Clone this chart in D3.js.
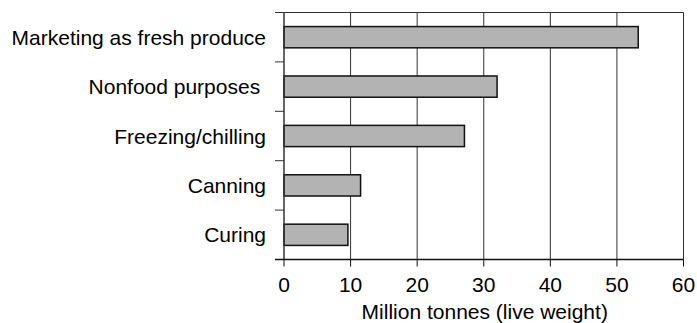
<!DOCTYPE html>
<html><head><meta charset="utf-8">
<script src="https://cdn.jsdelivr.net/npm/d3@7"></script>
<style>body{margin:0;background:#fff}text{font-family:"Liberation Sans",Arial,sans-serif;fill:#000}</style>
</head><body>
<svg id="c" width="697" height="323"></svg>
<script>
const categories = ["Marketing as fresh produce", "Nonfood purposes ", "Freezing/chilling", "Canning", "Curing"];
const values = [53.2, 32.0, 27.1, 11.5, 9.6];
const xTicks = [0, 10, 20, 30, 40, 50, 60];
const xTitle = "Million tonnes (live weight)";

const svg = d3.select("#c");
const m = {l: 284, r: 683.5, t: 12.5, b: 259.5};
const x = d3.scaleLinear().domain([0, 60]).range([m.l, m.r]);
const y = d3.scaleBand().domain(categories).range([m.t, m.b]).paddingInner(0.57).paddingOuter(0.285);
const band = d3.scaleBand().domain(categories).range([m.t, m.b]);

// gridlines
svg.append("g").selectAll("line").data(xTicks.slice(1)).join("line")
  .attr("x1", d => x(d)).attr("x2", d => x(d)).attr("y1", m.t).attr("y2", m.b)
  .attr("stroke", "#333").attr("stroke-width", 1);
// top frame
svg.append("line").attr("x1", 275).attr("x2", m.r).attr("y1", m.t).attr("y2", m.t)
  .attr("stroke", "#333").attr("stroke-width", 1);

// bars
svg.append("g").selectAll("rect").data(categories).join("rect")
  .attr("x", x(0)).attr("y", d => y(d))
  .attr("width", (d, i) => x(values[i]) - x(0)).attr("height", y.bandwidth())
  .attr("fill", "#b3b3b3").attr("stroke", "#111").attr("stroke-width", 1.5);

// left axis with ticks at band boundaries
svg.append("line").attr("x1", m.l).attr("x2", m.l).attr("y1", m.t).attr("y2", m.b)
  .attr("stroke", "#333").attr("stroke-width", 1.5);
const bounds = categories.map(c => band(c)).concat([m.b]);
svg.append("g").selectAll("line").data(bounds).join("line")
  .attr("x1", 275).attr("x2", m.l).attr("y1", d => d).attr("y2", d => d)
  .attr("stroke", "#333").attr("stroke-width", 1);

// category labels
svg.append("g").selectAll("text").data(categories).join("text")
  .attr("x", 266).attr("y", d => band(d) + band.bandwidth() / 2)
  .attr("dy", "0.36em").attr("text-anchor", "end")
  .style("white-space", "pre").style("font-size", "21px")
  .text(d => d);

// bottom axis
svg.append("line").attr("x1", 275).attr("x2", m.r).attr("y1", m.b).attr("y2", m.b)
  .attr("stroke", "#111").attr("stroke-width", 1.5);
svg.append("g").selectAll("line").data(xTicks).join("line")
  .attr("x1", d => x(d)).attr("x2", d => x(d)).attr("y1", m.b).attr("y2", 266.5)
  .attr("stroke", "#111").attr("stroke-width", 1);
svg.append("g").selectAll("text").data(xTicks).join("text")
  .attr("x", d => x(d)).attr("y", 292).attr("text-anchor", "middle")
  .style("font-size", "21px").text(d => d);

svg.append("text").attr("x", (m.l + m.r) / 2 + 1).attr("y", 318.5)
  .attr("text-anchor", "middle").style("font-size", "21px").text(xTitle);
</script>
</body></html>
